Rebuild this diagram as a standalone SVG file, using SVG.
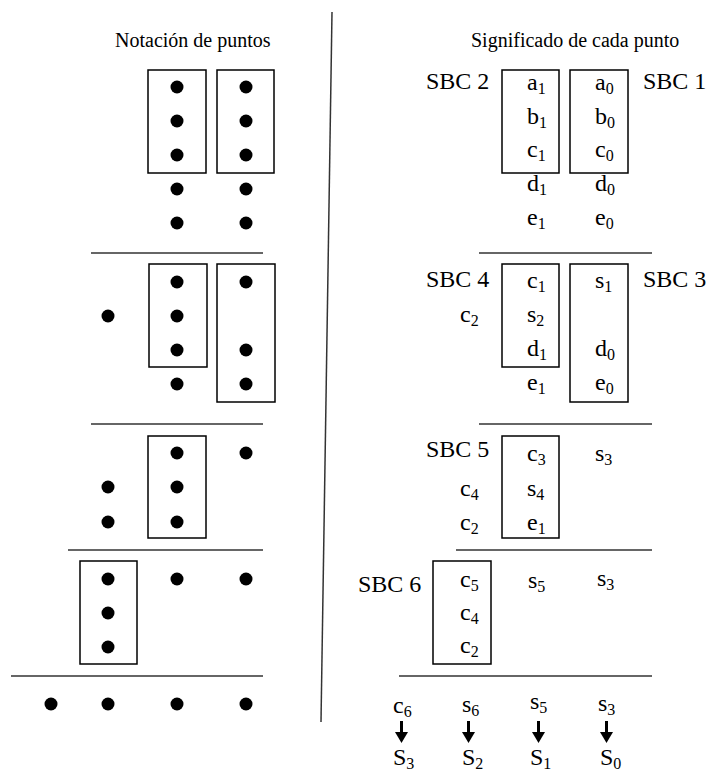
<svg xmlns="http://www.w3.org/2000/svg" width="706" height="772" viewBox="0 0 706 772" font-family="'Liberation Serif', 'Times New Roman', serif">
<style>
text{font-family:'Liberation Serif','Times New Roman',serif;fill:#000}
.h{font-size:20px}
.t{font-size:24px}
.sub{font-size:16px}
.box{fill:none;stroke:#000;stroke-width:1.5}
.rule{stroke:#333;stroke-width:1.5}
.dot{fill:#000}
.arr{stroke:#000;stroke-width:3}
</style>
<defs>
<marker id="ah" markerUnits="userSpaceOnUse" markerWidth="11" markerHeight="13" refX="0" refY="6.5" orient="auto" viewBox="0 0 11 13">
<path d="M0,0 L11,6.5 L0,13 z" fill="#000"/>
</marker>
</defs>
<rect width="706" height="772" fill="#fff"/>

<g id="rules">
<line class="rule" x1="332" y1="12" x2="321" y2="722" stroke="#000"/>
<line class="rule" x1="91" y1="253" x2="263" y2="253"/>
<line class="rule" x1="91" y1="424" x2="263" y2="424"/>
<line class="rule" x1="68" y1="550" x2="263" y2="550"/>
<line class="rule" x1="11" y1="676" x2="263" y2="676"/>
<line class="rule" x1="479" y1="253" x2="652" y2="253"/>
<line class="rule" x1="479" y1="424" x2="652" y2="424"/>
<line class="rule" x1="456" y1="550" x2="652" y2="550"/>
<line class="rule" x1="399" y1="676" x2="652" y2="676"/>
</g>

<g id="headers">
<text class="h" x="115" y="47">Notación de puntos</text>
<text class="h" x="471" y="47">Significado de cada punto</text>
</g>

<g id="left-sec1">
<rect class="box" x="148" y="70" width="58" height="103"/>
<rect class="box" x="217" y="70" width="57" height="103"/>
<circle class="dot" cx="177" cy="87" r="6.5"/><circle class="dot" cx="177" cy="121" r="6.5"/><circle class="dot" cx="177" cy="155" r="6.5"/><circle class="dot" cx="177" cy="189" r="6.5"/><circle class="dot" cx="177" cy="223" r="6.5"/>
<circle class="dot" cx="246" cy="87" r="6.5"/><circle class="dot" cx="246" cy="121" r="6.5"/><circle class="dot" cx="246" cy="155" r="6.5"/><circle class="dot" cx="246" cy="189" r="6.5"/><circle class="dot" cx="246" cy="223" r="6.5"/>
</g>
<g id="left-sec2">
<rect class="box" x="149" y="264" width="58" height="103"/>
<rect class="box" x="217" y="264" width="58" height="138"/>
<circle class="dot" cx="108" cy="316" r="6.5"/>
<circle class="dot" cx="177" cy="282" r="6.5"/><circle class="dot" cx="177" cy="316" r="6.5"/><circle class="dot" cx="177" cy="350" r="6.5"/><circle class="dot" cx="177" cy="384" r="6.5"/>
<circle class="dot" cx="246" cy="282" r="6.5"/><circle class="dot" cx="246" cy="350" r="6.5"/><circle class="dot" cx="246" cy="384" r="6.5"/>
</g>
<g id="left-sec3">
<rect class="box" x="148" y="436" width="58" height="102"/>
<circle class="dot" cx="177" cy="453" r="6.5"/><circle class="dot" cx="177" cy="487" r="6.5"/><circle class="dot" cx="177" cy="522" r="6.5"/>
<circle class="dot" cx="246" cy="453" r="6.5"/>
<circle class="dot" cx="108" cy="487" r="6.5"/><circle class="dot" cx="108" cy="522" r="6.5"/>
</g>
<g id="left-sec4">
<rect class="box" x="80" y="561" width="57" height="103"/>
<circle class="dot" cx="108" cy="579" r="6.5"/><circle class="dot" cx="108" cy="613" r="6.5"/><circle class="dot" cx="108" cy="647" r="6.5"/>
<circle class="dot" cx="177" cy="579" r="6.5"/><circle class="dot" cx="246" cy="579" r="6.5"/>
</g>
<g id="left-sec5">
<circle class="dot" cx="51" cy="704" r="6.5"/><circle class="dot" cx="108" cy="704" r="6.5"/><circle class="dot" cx="177" cy="704" r="6.5"/><circle class="dot" cx="246" cy="704" r="6.5"/>
</g>

<g id="sbc2">
<rect class="box" x="502" y="70" width="57" height="103"/>
<text class="t" x="426" y="89">SBC 2</text>
<text class="t" x="527" y="90">a<tspan class="sub" dy="4">1</tspan></text>
<text class="t" x="527" y="124">b<tspan class="sub" dy="4">1</tspan></text>
<text class="t" x="527" y="157">c<tspan class="sub" dy="4">1</tspan></text>
<text class="t" x="527" y="191">d<tspan class="sub" dy="4">1</tspan></text>
<text class="t" x="527" y="225">e<tspan class="sub" dy="4">1</tspan></text>
</g>
<g id="sbc1">
<rect class="box" x="570" y="70" width="58" height="103"/>
<text class="t" x="643" y="89">SBC 1</text>
<text class="t" x="595" y="90">a<tspan class="sub" dy="4">0</tspan></text>
<text class="t" x="595" y="124">b<tspan class="sub" dy="4">0</tspan></text>
<text class="t" x="595" y="157">c<tspan class="sub" dy="4">0</tspan></text>
<text class="t" x="595" y="191">d<tspan class="sub" dy="4">0</tspan></text>
<text class="t" x="595" y="225">e<tspan class="sub" dy="4">0</tspan></text>
</g>
<g id="sbc4">
<rect class="box" x="502" y="264" width="57" height="103"/>
<text class="t" x="426" y="287">SBC 4</text>
<text class="t" x="460" y="322">c<tspan class="sub" dy="4">2</tspan></text>
<text class="t" x="527" y="288">c<tspan class="sub" dy="4">1</tspan></text>
<text class="t" x="527" y="322">s<tspan class="sub" dy="4">2</tspan></text>
<text class="t" x="527" y="356">d<tspan class="sub" dy="4">1</tspan></text>
<text class="t" x="527" y="390">e<tspan class="sub" dy="4">1</tspan></text>
</g>
<g id="sbc3">
<rect class="box" x="570" y="264" width="58" height="138"/>
<text class="t" x="643" y="287">SBC 3</text>
<text class="t" x="595" y="288">s<tspan class="sub" dy="4">1</tspan></text>
<text class="t" x="595" y="356">d<tspan class="sub" dy="4">0</tspan></text>
<text class="t" x="595" y="390">e<tspan class="sub" dy="4">0</tspan></text>
</g>
<g id="sbc5">
<rect class="box" x="502" y="436" width="57" height="102"/>
<text class="t" x="426" y="457">SBC 5</text>
<text class="t" x="460" y="496">c<tspan class="sub" dy="4">4</tspan></text>
<text class="t" x="460" y="530">c<tspan class="sub" dy="4">2</tspan></text>
<text class="t" x="527" y="461">c<tspan class="sub" dy="4">3</tspan></text>
<text class="t" x="527" y="496">s<tspan class="sub" dy="4">4</tspan></text>
<text class="t" x="527" y="530">e<tspan class="sub" dy="4">1</tspan></text>
<text class="t" x="595" y="461">s<tspan class="sub" dy="4">3</tspan></text>
</g>
<g id="sbc6">
<rect class="box" x="433" y="561" width="58" height="103"/>
<text class="t" x="358" y="592">SBC 6</text>
<text class="t" x="460" y="587">c<tspan class="sub" dy="4">5</tspan></text>
<text class="t" x="460" y="620">c<tspan class="sub" dy="4">4</tspan></text>
<text class="t" x="460" y="653">c<tspan class="sub" dy="4">2</tspan></text>
<text class="t" x="528" y="588">s<tspan class="sub" dy="4">5</tspan></text>
<text class="t" x="597" y="586">s<tspan class="sub" dy="4">3</tspan></text>
</g>
<g id="result">
<text class="t" x="393" y="713">c<tspan class="sub" dy="4">6</tspan></text>
<text class="t" x="462" y="712">s<tspan class="sub" dy="4">6</tspan></text>
<text class="t" x="530" y="709">s<tspan class="sub" dy="4">5</tspan></text>
<text class="t" x="598" y="711">s<tspan class="sub" dy="4">3</tspan></text>
<text class="t" x="393" y="765">S<tspan class="sub" dy="4">3</tspan></text>
<text class="t" x="462" y="765">S<tspan class="sub" dy="4">2</tspan></text>
<text class="t" x="530" y="765">S<tspan class="sub" dy="4">1</tspan></text>
<text class="t" x="600" y="765">S<tspan class="sub" dy="4">0</tspan></text>
</g>

<g id="connectors">
<line class="arr" x1="401.5" y1="721" x2="401.5" y2="732" marker-end="url(#ah)"/>
<line class="arr" x1="468.5" y1="721" x2="468.5" y2="732" marker-end="url(#ah)"/>
<line class="arr" x1="538.5" y1="721" x2="538.5" y2="732" marker-end="url(#ah)"/>
<line class="arr" x1="606.5" y1="721" x2="606.5" y2="732" marker-end="url(#ah)"/>
</g>
</svg>
